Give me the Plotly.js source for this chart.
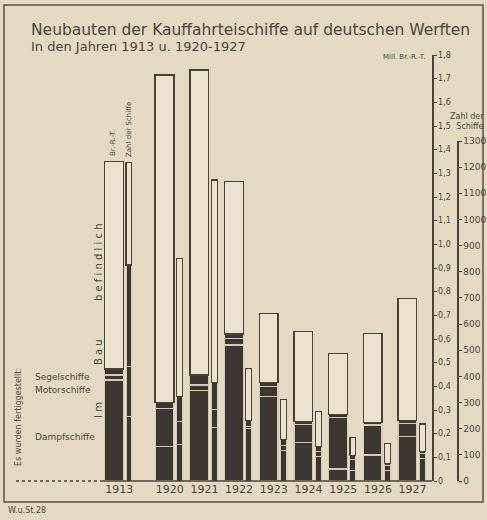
<!DOCTYPE html>
<html>
<head>
<meta charset="utf-8">
<script src="https://cdn.plot.ly/plotly-3.0.1.min.js"></script>
<style>
  html, body { margin: 0; padding: 0; background: #e4dac3; }
  #chart { width: 487px; height: 520px; }
</style>
</head>
<body>
<div id="chart"></div>
<script>
// ---------- data ----------
const years = ['1913', '1920', '1921', '1922', '1923', '1924', '1925', '1926', '1927'];

// Tonnage, Mill. Br.-R.-T. (fertiggestellt: Dampf-, Motor-, Segelschiffe; im Bau befindlich)
const tonDampf = [0.427, 0.145, 0.384, 0.575, 0.356, 0.163, 0.051, 0.110, 0.187];
const tonMotor = [0.021, 0.160, 0.022, 0.028, 0.045, 0.076, 0.218, 0.127, 0.057];
const tonSegel = [0.025, 0.026, 0.042, 0.018, 0.014, 0.012, 0.013, 0.009, 0.011];
const tonBau   = [0.877, 1.384, 1.288, 0.644, 0.293, 0.380, 0.257, 0.378, 0.517];

// Zahl der Schiffe
const schDampf = [245, 138, 203, 200, 116, 93, 42, 42, 87];
const schMotor = [191, 89, 69, 8, 19, 19, 41, 17, 19];
const schSegel = [390, 97, 104, 25, 22, 19, 13, 9, 6];
const schBau   = [393, 528, 775, 198, 155, 134, 70, 76, 106];

const tonTicks = [0, 0.1, 0.2, 0.3, 0.4, 0.5, 0.6, 0.7, 0.8, 0.9, 1.0, 1.1, 1.2, 1.3, 1.4, 1.5, 1.6, 1.7, 1.8];
const tonTickLabels = ['0', '0,1', '0,2', '0,3', '0,4', '0,5', '0,6', '0,7', '0,8', '0,9', '1,0', '1,1', '1,2', '1,3', '1,4', '1,5', '1,6', '1,7', '1,8'];
const shipTicks = [0, 100, 200, 300, 400, 500, 600, 700, 800, 900, 1000, 1100, 1200, 1300];

// ---------- layout helpers ----------
const W = 487, H = 520;
const M = { l: 15, r: 30, t: 55, b: 39 };
const PW = W - M.l - M.r, PH = H - M.t - M.b;
const px = v => (v - M.l) / PW;          // pixel x -> paper x
const py = v => (H - M.b - v) / PH;      // pixel y -> paper y

const GAP = 1.455;  // wider gap between 1913 and 1920
const xpos = years.map((y, i) => i === 0 ? 0 : i + GAP - 1);

const DARK = '#3b3631';
const SEP = '#d6ccb4';
const FILL = '#ebe3cf';
const EDGE = '#4a4238';
const TXT = '#4a443d';
const FONT = 'DejaVu Sans, sans-serif';

function bar(y, axis, offset, width, dark, lw) {
  return {
    type: 'bar', x: xpos, y: y, yaxis: axis, offset: offset, width: width,
    marker: dark
      ? { color: DARK, line: { color: SEP, width: lw } }
      : { color: FILL, line: { color: EDGE, width: lw } },
    hoverinfo: 'skip', showlegend: false
  };
}

const WO = -0.27, WW = 0.54, NO = 0.346, NW = 0.17;
const data = [
  bar(tonDampf, 'y', WO, WW, true, 1.2),
  bar(tonMotor, 'y', WO, WW, true, 1.2),
  bar(tonSegel, 'y', WO, WW, true, 1.2),
  bar(tonBau,   'y', WO, WW, false, 1.4),
  bar(schDampf, 'y2', NO, NW, true, 1.0),
  bar(schMotor, 'y2', NO, NW, true, 1.0),
  bar(schSegel, 'y2', NO, NW, true, 1.0),
  bar(schBau,   'y2', NO, NW, false, 1.1)
];

const xRange = [-(114 - M.l) / 34.7, -(114 - M.l) / 34.7 + (432 - M.l) / 34.7];

function ann(text, x, y, opts) {
  return Object.assign({
    text: text, xref: 'paper', yref: 'paper', x: px(x), y: py(y),
    showarrow: false, xanchor: 'center', yanchor: 'middle',
    font: { family: FONT, size: 9, color: TXT }
  }, opts || {});
}

const layout = {
  width: W, height: H,
  margin: M,
  paper_bgcolor: '#e4dac3',
  plot_bgcolor: 'rgba(0,0,0,0)',
  barmode: 'stack',
  showlegend: false,
  hovermode: false,
  xaxis: {
    domain: [0, px(432)], range: xRange,
    tickvals: xpos.map(p => p + 0.15), ticktext: years,
    showgrid: false, zeroline: false, showline: false, ticks: '',
    tickfont: { family: FONT, size: 11, color: TXT }
  },
  yaxis: {
    domain: [0, 1], range: [0, 1.8], anchor: 'x', side: 'right',
    tickvals: tonTicks, ticktext: tonTickLabels,
    showline: true, linecolor: EDGE, linewidth: 1.5,
    ticks: 'outside', ticklen: 3, tickcolor: EDGE, tickwidth: 1,
    showgrid: false, zeroline: false,
    tickfont: { family: FONT, size: 8, color: TXT }
  },
  yaxis2: {
    domain: [0, py(141)], range: [0, 1300], anchor: 'free', position: 1, side: 'right',
    tickvals: shipTicks,
    showline: true, linecolor: EDGE, linewidth: 1.5,
    ticks: 'outside', ticklen: 3, tickcolor: EDGE, tickwidth: 1,
    showgrid: false, zeroline: false,
    tickfont: { family: FONT, size: 9, color: TXT }
  },
  shapes: [
    { type: 'rect', xref: 'paper', yref: 'paper', x0: px(4), x1: px(483), y0: py(502), y1: py(5),
      line: { color: '#5a5248', width: 1.5 }, layer: 'below' },
    { type: 'line', xref: 'paper', yref: 'paper', x0: px(100), x1: px(432), y0: 0, y1: 0,
      line: { color: EDGE, width: 1.6 } },
    { type: 'line', xref: 'paper', yref: 'paper', x0: px(16), x1: px(100), y0: 0, y1: 0,
      line: { color: EDGE, width: 1.6, dash: 'dot' } }
  ],
  annotations: [
    ann('Neubauten der Kauffahrteischiffe auf deutschen Werften', 29, 30,
        { xanchor: 'left', font: { family: FONT, size: 15.5, color: TXT } }),
    ann('In den Jahren 1913 u. 1920-1927', 29, 46,
        { xanchor: 'left', font: { family: FONT, size: 13, color: TXT } }),
    ann('Mill. Br.-R.-T.', 428, 57, { xanchor: 'right', font: { family: FONT, size: 7, color: TXT } }),
    ann('Zahl der<br>Schiffe', 486, 121, { xanchor: 'right', align: 'right', font: { family: FONT, size: 8, color: TXT } }),
    ann('Br.-R.-T.', 113, 143, { textangle: -90, font: { family: FONT, size: 7, color: TXT } }),
    ann('Zahl der Schiffe', 129, 130, { textangle: -90, font: { family: FONT, size: 7, color: TXT } }),
    ann('b e f i n d l i c h', 98, 262, { textangle: -90, font: { family: FONT, size: 10, color: TXT } }),
    ann('B a u', 98, 352, { textangle: -90, font: { family: FONT, size: 10, color: TXT } }),
    ann('I m', 98, 410, { textangle: -90, font: { family: FONT, size: 10, color: TXT } }),
    ann('Es wurden fertiggestellt:', 18, 417, { textangle: -90, font: { family: FONT, size: 8, color: TXT } }),
    ann('Segelschiffe', 33, 377, { xanchor: 'left', font: { family: FONT, size: 9, color: TXT } }),
    ann('Motorschiffe', 33, 390, { xanchor: 'left', font: { family: FONT, size: 9, color: TXT } }),
    ann('Dampfschiffe', 33, 437, { xanchor: 'left', font: { family: FONT, size: 9, color: TXT } }),
    ann('W.u.St.28', 6, 510, { xanchor: 'left', font: { family: FONT, size: 8, color: TXT } })
  ]
};

Plotly.newPlot('chart', data, layout, { staticPlot: true, displayModeBar: false });
</script>
</body>
</html>
